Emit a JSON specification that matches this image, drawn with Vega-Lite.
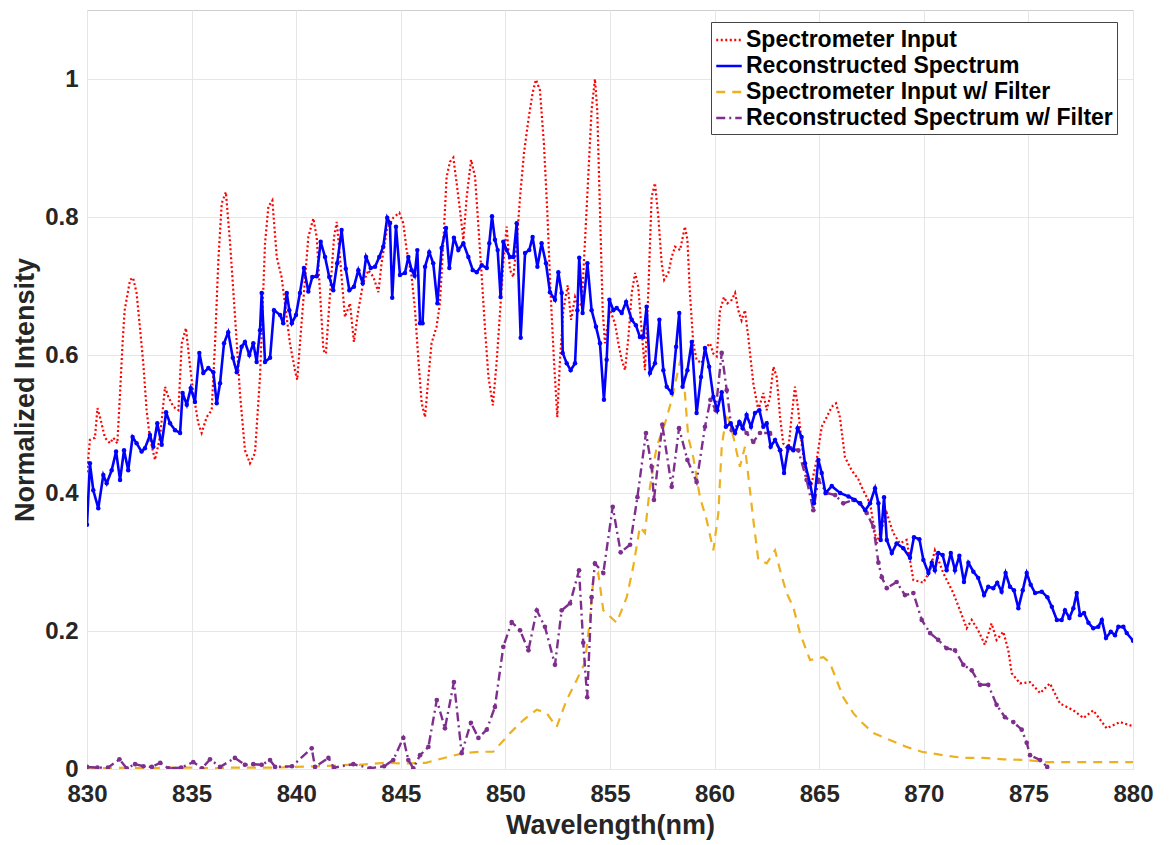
{
"$schema": "https://vega.github.io/schema/vega-lite/v6.json",
"width": 1046, "height": 759,
"autosize": {"type": "none"},
"padding": {"left": 87, "top": 10, "right": 37, "bottom": 76},
"background": "white",
"datasets": {
"si": [
{"x":830.0,"y":0.43},{"x":830.14,"y":0.477},{"x":830.38,"y":0.48},{"x":830.5,"y":0.523},{"x":830.62,"y":0.51},{"x":830.86,"y":0.48},{"x":831.1,"y":0.472},{"x":831.26,"y":0.48},{"x":831.45,"y":0.472},{"x":831.58,"y":0.545},{"x":831.7,"y":0.617},{"x":831.8,"y":0.665},{"x":832.06,"y":0.709},{"x":832.2,"y":0.712},{"x":832.37,"y":0.69},{"x":832.53,"y":0.64},{"x":832.69,"y":0.588},{"x":832.85,"y":0.52},{"x":833.0,"y":0.481},{"x":833.25,"y":0.448},{"x":833.49,"y":0.481},{"x":833.73,"y":0.554},{"x":833.89,"y":0.539},{"x":834.13,"y":0.525},{"x":834.37,"y":0.52},{"x":834.53,"y":0.617},{"x":834.73,"y":0.639},{"x":834.89,"y":0.593},{"x":835.08,"y":0.545},{"x":835.32,"y":0.501},{"x":835.48,"y":0.487},{"x":835.72,"y":0.51},{"x":835.96,"y":0.52},{"x":836.12,"y":0.617},{"x":836.28,"y":0.738},{"x":836.44,"y":0.82},{"x":836.64,"y":0.836},{"x":836.84,"y":0.762},{"x":837.0,"y":0.69},{"x":837.16,"y":0.617},{"x":837.31,"y":0.545},{"x":837.55,"y":0.462},{"x":837.79,"y":0.443},{"x":838.03,"y":0.458},{"x":838.27,"y":0.568},{"x":838.51,"y":0.762},{"x":838.67,"y":0.815},{"x":838.86,"y":0.824},{"x":839.07,"y":0.742},{"x":839.3,"y":0.713},{"x":839.46,"y":0.675},{"x":839.7,"y":0.617},{"x":839.94,"y":0.578},{"x":840.05,"y":0.564},{"x":840.18,"y":0.617},{"x":840.37,"y":0.69},{"x":840.58,"y":0.771},{"x":840.82,"y":0.798},{"x":840.98,"y":0.771},{"x":841.14,"y":0.69},{"x":841.3,"y":0.607},{"x":841.42,"y":0.602},{"x":841.62,"y":0.69},{"x":841.81,"y":0.771},{"x":841.94,"y":0.793},{"x":842.1,"y":0.738},{"x":842.33,"y":0.655},{"x":842.57,"y":0.675},{"x":842.76,"y":0.619},{"x":842.97,"y":0.665},{"x":843.2,"y":0.704},{"x":843.45,"y":0.723},{"x":843.69,"y":0.713},{"x":843.93,"y":0.691},{"x":844.08,"y":0.733},{"x":844.33,"y":0.781},{"x":844.64,"y":0.799},{"x":844.93,"y":0.806},{"x":845.12,"y":0.791},{"x":845.28,"y":0.752},{"x":845.52,"y":0.713},{"x":845.68,"y":0.665},{"x":845.84,"y":0.593},{"x":846.0,"y":0.53},{"x":846.16,"y":0.51},{"x":846.32,"y":0.568},{"x":846.47,"y":0.617},{"x":846.71,"y":0.641},{"x":846.87,"y":0.675},{"x":847.03,"y":0.762},{"x":847.19,"y":0.858},{"x":847.35,"y":0.88},{"x":847.51,"y":0.886},{"x":847.67,"y":0.849},{"x":847.83,"y":0.81},{"x":847.99,"y":0.767},{"x":848.15,"y":0.829},{"x":848.36,"y":0.883},{"x":848.55,"y":0.858},{"x":848.71,"y":0.786},{"x":848.87,"y":0.713},{"x":849.03,"y":0.636},{"x":849.19,"y":0.568},{"x":849.4,"y":0.527},{"x":849.59,"y":0.593},{"x":849.75,"y":0.665},{"x":849.91,"y":0.738},{"x":850.06,"y":0.786},{"x":850.22,"y":0.723},{"x":850.38,"y":0.713},{"x":850.54,"y":0.762},{"x":850.7,"y":0.829},{"x":850.89,"y":0.893},{"x":851.1,"y":0.941},{"x":851.3,"y":0.98},{"x":851.46,"y":0.999},{"x":851.65,"y":0.984},{"x":851.84,"y":0.907},{"x":852.0,"y":0.81},{"x":852.16,"y":0.69},{"x":852.32,"y":0.593},{"x":852.48,"y":0.51},{"x":852.61,"y":0.593},{"x":852.77,"y":0.665},{"x":852.98,"y":0.701},{"x":853.14,"y":0.651},{"x":853.33,"y":0.684},{"x":853.49,"y":0.67},{"x":853.65,"y":0.675},{"x":853.8,"y":0.762},{"x":853.96,"y":0.858},{"x":854.12,"y":0.955},{"x":854.28,"y":1.0},{"x":854.39,"y":0.955},{"x":854.52,"y":0.81},{"x":854.65,"y":0.665},{"x":854.76,"y":0.617},{"x":855.0,"y":0.665},{"x":855.24,"y":0.646},{"x":855.4,"y":0.617},{"x":855.56,"y":0.593},{"x":855.72,"y":0.578},{"x":855.88,"y":0.626},{"x":856.04,"y":0.69},{"x":856.2,"y":0.719},{"x":856.35,"y":0.699},{"x":856.51,"y":0.636},{"x":856.67,"y":0.578},{"x":856.83,"y":0.69},{"x":856.99,"y":0.829},{"x":857.15,"y":0.849},{"x":857.31,"y":0.8},{"x":857.47,"y":0.733},{"x":857.59,"y":0.709},{"x":857.79,"y":0.719},{"x":857.95,"y":0.742},{"x":858.11,"y":0.757},{"x":858.35,"y":0.752},{"x":858.58,"y":0.786},{"x":858.7,"y":0.767},{"x":858.82,"y":0.69},{"x":858.98,"y":0.617},{"x":859.14,"y":0.593},{"x":859.38,"y":0.588},{"x":859.62,"y":0.612},{"x":859.78,"y":0.617},{"x":859.94,"y":0.602},{"x":860.1,"y":0.598},{"x":860.26,"y":0.665},{"x":860.45,"y":0.684},{"x":860.61,"y":0.675},{"x":860.82,"y":0.68},{"x":860.98,"y":0.69},{"x":861.13,"y":0.665},{"x":861.29,"y":0.65},{"x":861.45,"y":0.665},{"x":861.61,"y":0.626},{"x":861.85,"y":0.559},{"x":862.09,"y":0.52},{"x":862.33,"y":0.545},{"x":862.49,"y":0.52},{"x":862.65,"y":0.54},{"x":862.81,"y":0.583},{"x":862.97,"y":0.568},{"x":863.13,"y":0.51},{"x":863.28,"y":0.472},{"x":863.52,"y":0.462},{"x":863.68,"y":0.51},{"x":863.84,"y":0.554},{"x":864.0,"y":0.52},{"x":864.16,"y":0.472},{"x":864.4,"y":0.423},{"x":864.64,"y":0.414},{"x":864.88,"y":0.448},{"x":865.12,"y":0.496},{"x":865.36,"y":0.51},{"x":865.6,"y":0.525},{"x":865.8,"y":0.53},{"x":865.99,"y":0.51},{"x":866.23,"y":0.452},{"x":866.55,"y":0.433},{"x":866.87,"y":0.42},{"x":867.1,"y":0.404},{"x":867.43,"y":0.385},{"x":867.75,"y":0.327},{"x":868.23,"y":0.371},{"x":868.54,"y":0.342},{"x":868.86,"y":0.327},{"x":869.18,"y":0.332},{"x":869.5,"y":0.274},{"x":869.98,"y":0.27},{"x":870.3,"y":0.288},{"x":870.53,"y":0.317},{"x":870.93,"y":0.284},{"x":871.41,"y":0.255},{"x":871.73,"y":0.23},{"x":872.05,"y":0.204},{"x":872.29,"y":0.216},{"x":872.6,"y":0.201},{"x":872.92,"y":0.18},{"x":873.24,"y":0.211},{"x":873.48,"y":0.187},{"x":873.8,"y":0.199},{"x":874.04,"y":0.172},{"x":874.2,"y":0.139},{"x":874.6,"y":0.124},{"x":875.08,"y":0.126},{"x":875.56,"y":0.11},{"x":876.03,"y":0.124},{"x":876.51,"y":0.095},{"x":877.15,"y":0.085},{"x":877.63,"y":0.074},{"x":878.1,"y":0.085},{"x":878.74,"y":0.059},{"x":879.38,"y":0.068},{"x":880.0,"y":0.062}
],
"rs": [
{"x":830.0,"y":0.354},{"x":830.14,"y":0.443},{"x":830.3,"y":0.404},{"x":830.54,"y":0.378},{"x":830.78,"y":0.426},{"x":830.94,"y":0.414},{"x":831.18,"y":0.433},{"x":831.39,"y":0.46},{"x":831.58,"y":0.419},{"x":831.77,"y":0.462},{"x":831.97,"y":0.433},{"x":832.18,"y":0.481},{"x":832.37,"y":0.472},{"x":832.61,"y":0.46},{"x":832.77,"y":0.465},{"x":833.01,"y":0.484},{"x":833.17,"y":0.467},{"x":833.36,"y":0.501},{"x":833.57,"y":0.47},{"x":833.78,"y":0.517},{"x":833.97,"y":0.501},{"x":834.21,"y":0.491},{"x":834.45,"y":0.487},{"x":834.57,"y":0.545},{"x":834.77,"y":0.528},{"x":834.96,"y":0.552},{"x":835.16,"y":0.532},{"x":835.37,"y":0.603},{"x":835.56,"y":0.574},{"x":835.8,"y":0.581},{"x":836.04,"y":0.575},{"x":836.2,"y":0.53},{"x":836.36,"y":0.559},{"x":836.55,"y":0.617},{"x":836.75,"y":0.633},{"x":836.97,"y":0.596},{"x":837.16,"y":0.575},{"x":837.39,"y":0.612},{"x":837.55,"y":0.619},{"x":837.76,"y":0.6},{"x":837.95,"y":0.617},{"x":838.11,"y":0.59},{"x":838.27,"y":0.636},{"x":838.35,"y":0.69},{"x":838.51,"y":0.59},{"x":838.75,"y":0.596},{"x":838.94,"y":0.665},{"x":839.23,"y":0.658},{"x":839.38,"y":0.646},{"x":839.55,"y":0.69},{"x":839.67,"y":0.665},{"x":839.79,"y":0.646},{"x":839.99,"y":0.658},{"x":840.18,"y":0.69},{"x":840.37,"y":0.726},{"x":840.58,"y":0.692},{"x":840.77,"y":0.713},{"x":840.98,"y":0.714},{"x":841.17,"y":0.764},{"x":841.38,"y":0.742},{"x":841.58,"y":0.713},{"x":841.77,"y":0.694},{"x":841.96,"y":0.733},{"x":842.17,"y":0.781},{"x":842.37,"y":0.725},{"x":842.54,"y":0.694},{"x":842.76,"y":0.699},{"x":842.97,"y":0.723},{"x":843.18,"y":0.704},{"x":843.34,"y":0.742},{"x":843.56,"y":0.726},{"x":843.77,"y":0.728},{"x":843.97,"y":0.742},{"x":844.16,"y":0.757},{"x":844.35,"y":0.799},{"x":844.48,"y":0.791},{"x":844.59,"y":0.683},{"x":844.77,"y":0.786},{"x":844.96,"y":0.716},{"x":845.2,"y":0.719},{"x":845.36,"y":0.742},{"x":845.52,"y":0.723},{"x":845.66,"y":0.715},{"x":845.79,"y":0.752},{"x":845.92,"y":0.646},{"x":846.04,"y":0.646},{"x":846.16,"y":0.728},{"x":846.36,"y":0.749},{"x":846.55,"y":0.733},{"x":846.75,"y":0.675},{"x":846.95,"y":0.755},{"x":847.16,"y":0.784},{"x":847.32,"y":0.726},{"x":847.54,"y":0.77},{"x":847.75,"y":0.752},{"x":847.99,"y":0.762},{"x":848.23,"y":0.742},{"x":848.44,"y":0.723},{"x":848.63,"y":0.72},{"x":848.87,"y":0.73},{"x":849.11,"y":0.726},{"x":849.23,"y":0.762},{"x":849.36,"y":0.801},{"x":849.5,"y":0.767},{"x":849.63,"y":0.752},{"x":849.77,"y":0.684},{"x":849.9,"y":0.764},{"x":850.06,"y":0.752},{"x":850.22,"y":0.742},{"x":850.38,"y":0.742},{"x":850.54,"y":0.791},{"x":850.73,"y":0.625},{"x":850.94,"y":0.748},{"x":851.14,"y":0.752},{"x":851.3,"y":0.771},{"x":851.53,"y":0.728},{"x":851.73,"y":0.762},{"x":851.94,"y":0.733},{"x":852.13,"y":0.691},{"x":852.37,"y":0.68},{"x":852.53,"y":0.72},{"x":852.69,"y":0.69},{"x":852.74,"y":0.603},{"x":852.93,"y":0.588},{"x":853.12,"y":0.578},{"x":853.33,"y":0.588},{"x":853.44,"y":0.665},{"x":853.53,"y":0.741},{"x":853.69,"y":0.661},{"x":853.92,"y":0.733},{"x":854.12,"y":0.665},{"x":854.33,"y":0.641},{"x":854.52,"y":0.617},{"x":854.71,"y":0.535},{"x":854.84,"y":0.593},{"x":854.97,"y":0.68},{"x":855.16,"y":0.665},{"x":855.32,"y":0.668},{"x":855.56,"y":0.661},{"x":855.77,"y":0.677},{"x":856.04,"y":0.651},{"x":856.24,"y":0.643},{"x":856.43,"y":0.626},{"x":856.59,"y":0.626},{"x":856.75,"y":0.67},{"x":856.91,"y":0.574},{"x":857.15,"y":0.588},{"x":857.36,"y":0.651},{"x":857.55,"y":0.578},{"x":857.71,"y":0.554},{"x":857.95,"y":0.545},{"x":858.16,"y":0.612},{"x":858.31,"y":0.661},{"x":858.47,"y":0.554},{"x":858.7,"y":0.578},{"x":858.91,"y":0.619},{"x":859.14,"y":0.516},{"x":859.35,"y":0.568},{"x":859.54,"y":0.61},{"x":859.74,"y":0.583},{"x":859.94,"y":0.539},{"x":860.13,"y":0.52},{"x":860.34,"y":0.546},{"x":860.54,"y":0.496},{"x":860.77,"y":0.501},{"x":860.98,"y":0.487},{"x":861.18,"y":0.503},{"x":861.34,"y":0.494},{"x":861.53,"y":0.513},{"x":861.74,"y":0.496},{"x":861.93,"y":0.516},{"x":862.14,"y":0.52},{"x":862.33,"y":0.496},{"x":862.49,"y":0.501},{"x":862.68,"y":0.467},{"x":862.89,"y":0.477},{"x":863.13,"y":0.462},{"x":863.32,"y":0.429},{"x":863.52,"y":0.467},{"x":863.76,"y":0.462},{"x":863.97,"y":0.494},{"x":864.16,"y":0.481},{"x":864.32,"y":0.443},{"x":864.56,"y":0.414},{"x":864.75,"y":0.385},{"x":864.96,"y":0.448},{"x":865.12,"y":0.429},{"x":865.3,"y":0.4},{"x":865.6,"y":0.41},{"x":866.0,"y":0.4},{"x":866.4,"y":0.395},{"x":866.7,"y":0.39},{"x":866.95,"y":0.385},{"x":867.2,"y":0.375},{"x":867.43,"y":0.385},{"x":867.67,"y":0.407},{"x":867.83,"y":0.385},{"x":867.94,"y":0.332},{"x":868.1,"y":0.394},{"x":868.23,"y":0.332},{"x":868.47,"y":0.313},{"x":868.7,"y":0.327},{"x":869.02,"y":0.32},{"x":869.34,"y":0.306},{"x":869.53,"y":0.336},{"x":869.79,"y":0.333},{"x":869.98,"y":0.303},{"x":870.22,"y":0.284},{"x":870.38,"y":0.299},{"x":870.53,"y":0.288},{"x":870.69,"y":0.313},{"x":870.9,"y":0.31},{"x":871.09,"y":0.288},{"x":871.29,"y":0.313},{"x":871.49,"y":0.288},{"x":871.7,"y":0.309},{"x":871.92,"y":0.271},{"x":872.13,"y":0.299},{"x":872.37,"y":0.286},{"x":872.6,"y":0.277},{"x":872.88,"y":0.252},{"x":873.08,"y":0.264},{"x":873.32,"y":0.262},{"x":873.51,"y":0.27},{"x":873.72,"y":0.257},{"x":873.91,"y":0.284},{"x":874.12,"y":0.264},{"x":874.31,"y":0.259},{"x":874.52,"y":0.233},{"x":874.73,"y":0.259},{"x":874.92,"y":0.284},{"x":875.11,"y":0.267},{"x":875.32,"y":0.255},{"x":875.64,"y":0.257},{"x":875.91,"y":0.249},{"x":876.12,"y":0.235},{"x":876.36,"y":0.216},{"x":876.59,"y":0.216},{"x":876.75,"y":0.23},{"x":876.96,"y":0.219},{"x":877.15,"y":0.233},{"x":877.31,"y":0.255},{"x":877.47,"y":0.223},{"x":877.66,"y":0.226},{"x":877.87,"y":0.212},{"x":878.1,"y":0.204},{"x":878.34,"y":0.206},{"x":878.51,"y":0.216},{"x":878.71,"y":0.19},{"x":878.94,"y":0.199},{"x":879.14,"y":0.194},{"x":879.3,"y":0.206},{"x":879.54,"y":0.206},{"x":879.7,"y":0.197},{"x":880.0,"y":0.186}
],
"sf": [
{"x":830,"y":0.002},{"x":831,"y":0.001},{"x":832,"y":0.002},{"x":833,"y":0.001},{"x":834,"y":0.002},{"x":835,"y":0.002},{"x":836,"y":0.001},{"x":837,"y":0.002},{"x":838,"y":0.002},{"x":839,"y":0.002},{"x":840,"y":0.003},{"x":841,"y":0.004},{"x":842,"y":0.005},{"x":842.4,"y":0.006},{"x":843,"y":0.006},{"x":844.3,"y":0.009},{"x":845,"y":0.008},{"x":846.2,"y":0.009},{"x":847.2,"y":0.017},{"x":848,"y":0.023},{"x":848.8,"y":0.025},{"x":849.42,"y":0.025},{"x":850.22,"y":0.052},{"x":850.86,"y":0.071},{"x":851.5,"y":0.086},{"x":851.97,"y":0.081},{"x":852.45,"y":0.061},{"x":852.93,"y":0.1},{"x":853.41,"y":0.129},{"x":853.8,"y":0.154},{"x":854.04,"y":0.216},{"x":854.2,"y":0.274},{"x":854.44,"y":0.284},{"x":854.68,"y":0.23},{"x":855.32,"y":0.212},{"x":855.8,"y":0.249},{"x":856.11,"y":0.293},{"x":856.43,"y":0.351},{"x":856.67,"y":0.342},{"x":856.91,"y":0.409},{"x":857.23,"y":0.467},{"x":857.63,"y":0.501},{"x":857.95,"y":0.535},{"x":858.27,"y":0.58},{"x":858.42,"y":0.6},{"x":858.58,"y":0.545},{"x":858.74,"y":0.481},{"x":858.98,"y":0.452},{"x":859.3,"y":0.394},{"x":859.62,"y":0.361},{"x":859.94,"y":0.317},{"x":860.18,"y":0.371},{"x":860.34,"y":0.467},{"x":860.58,"y":0.516},{"x":860.9,"y":0.481},{"x":861.21,"y":0.438},{"x":861.45,"y":0.467},{"x":861.69,"y":0.404},{"x":861.85,"y":0.361},{"x":862.09,"y":0.303},{"x":862.49,"y":0.298},{"x":862.89,"y":0.317},{"x":863.13,"y":0.288},{"x":863.44,"y":0.255},{"x":863.76,"y":0.235},{"x":864.08,"y":0.197},{"x":864.56,"y":0.158},{"x":865.2,"y":0.162},{"x":865.51,"y":0.154},{"x":866.15,"y":0.104},{"x":866.63,"y":0.081},{"x":866.95,"y":0.07},{"x":867.59,"y":0.052},{"x":868.38,"y":0.042},{"x":869.18,"y":0.032},{"x":869.9,"y":0.025},{"x":870.93,"y":0.02},{"x":871.89,"y":0.016},{"x":872.84,"y":0.016},{"x":873.8,"y":0.014},{"x":874.92,"y":0.013},{"x":875.87,"y":0.01},{"x":877.3,"y":0.01},{"x":880,"y":0.01}
],
"rf": [
{"x":830.0,"y":0.003},{"x":830.5,"y":0.002},{"x":831.0,"y":0.002},{"x":831.55,"y":0.014},{"x":831.9,"y":0.001},{"x":832.3,"y":0.007},{"x":832.7,"y":0.004},{"x":833.1,"y":0.003},{"x":833.5,"y":0.009},{"x":833.9,"y":0.001},{"x":834.5,"y":0.002},{"x":835.08,"y":0.01},{"x":835.5,"y":0.001},{"x":835.88,"y":0.014},{"x":836.36,"y":0.003},{"x":837.07,"y":0.016},{"x":837.55,"y":0.006},{"x":837.95,"y":0.007},{"x":838.35,"y":0.006},{"x":838.75,"y":0.013},{"x":838.99,"y":0.003},{"x":839.8,"y":0.004},{"x":840.74,"y":0.03},{"x":840.9,"y":0.003},{"x":841.54,"y":0.016},{"x":841.8,"y":0.002},{"x":842.73,"y":0.007},{"x":843.53,"y":0.001},{"x":844.2,"y":0.004},{"x":844.64,"y":0.013},{"x":845.12,"y":0.045},{"x":845.36,"y":0.013},{"x":845.6,"y":0.001},{"x":845.92,"y":0.02},{"x":846.32,"y":0.032},{"x":846.72,"y":0.1},{"x":847.11,"y":0.059},{"x":847.54,"y":0.126},{"x":847.91,"y":0.023},{"x":848.35,"y":0.067},{"x":848.71,"y":0.045},{"x":849.11,"y":0.057},{"x":849.5,"y":0.09},{"x":849.9,"y":0.177},{"x":850.3,"y":0.213},{"x":850.7,"y":0.201},{"x":851.1,"y":0.172},{"x":851.5,"y":0.23},{"x":851.89,"y":0.206},{"x":852.37,"y":0.151},{"x":852.69,"y":0.23},{"x":853.09,"y":0.24},{"x":853.52,"y":0.288},{"x":853.72,"y":0.183},{"x":853.91,"y":0.104},{"x":854.12,"y":0.249},{"x":854.28,"y":0.298},{"x":854.68,"y":0.284},{"x":855.13,"y":0.38},{"x":855.51,"y":0.314},{"x":855.96,"y":0.325},{"x":856.31,"y":0.394},{"x":856.72,"y":0.487},{"x":856.99,"y":0.438},{"x":857.1,"y":0.39},{"x":857.5,"y":0.499},{"x":857.95,"y":0.409},{"x":858.3,"y":0.494},{"x":858.7,"y":0.448},{"x":859.14,"y":0.416},{"x":859.54,"y":0.496},{"x":859.8,"y":0.535},{"x":860.05,"y":0.52},{"x":860.34,"y":0.603},{"x":860.58,"y":0.549},{"x":860.82,"y":0.491},{"x":861.21,"y":0.501},{"x":861.53,"y":0.487},{"x":861.85,"y":0.474},{"x":862.17,"y":0.487},{"x":862.65,"y":0.487},{"x":863.13,"y":0.462},{"x":863.61,"y":0.465},{"x":864.0,"y":0.462},{"x":864.4,"y":0.419},{"x":864.72,"y":0.375},{"x":864.96,"y":0.419},{"x":865.36,"y":0.4},{"x":865.76,"y":0.397},{"x":866.15,"y":0.385},{"x":866.63,"y":0.39},{"x":866.95,"y":0.385},{"x":867.27,"y":0.371},{"x":867.59,"y":0.351},{"x":867.83,"y":0.299},{"x":867.99,"y":0.278},{"x":868.23,"y":0.262},{"x":868.7,"y":0.271},{"x":869.1,"y":0.252},{"x":869.5,"y":0.255},{"x":869.9,"y":0.216},{"x":870.3,"y":0.197},{"x":870.69,"y":0.187},{"x":871.09,"y":0.175},{"x":871.49,"y":0.172},{"x":871.89,"y":0.151},{"x":872.29,"y":0.143},{"x":872.69,"y":0.122},{"x":873.08,"y":0.122},{"x":873.48,"y":0.093},{"x":873.88,"y":0.075},{"x":874.28,"y":0.068},{"x":874.68,"y":0.057},{"x":874.92,"y":0.038},{"x":875.08,"y":0.02},{"x":875.56,"y":0.013},{"x":875.9,"y":0.003}
]
},
"encoding": {
"x": {"field": "x", "type": "quantitative", "scale": {"domain": [830, 880], "nice": false, "zero": false},
 "axis": {"title": "Wavelength(nm)", "values": [830,835,840,845,850,855,860,865,870,875,880], "format": "d", "labelFlush": false, "labelPadding": 13, "titlePadding": 6}},
"y": {"field": "y", "type": "quantitative", "scale": {"domain": [0, 1.1], "nice": false},
 "axis": {"title": "Normalized Intensity", "values": [0,0.2,0.4,0.6,0.8,1], "format": "~g", "labelFlush": false, "labelPadding": 9, "titlePadding": 5}}
},
"layer": [
{"data": {"name": "si"}, "mark": {"type": "line", "strokeWidth": 2.2, "clip": true},
 "encoding": {
  "color": {"datum": "Spectrometer Input", "type": "nominal", "scale": {"domain": ["Spectrometer Input","Reconstructed Spectrum","Spectrometer Input w/ Filter","Reconstructed Spectrum w/ Filter"], "range": ["#ff0000","#0000ff","#edb120","#7e2f8e"]}, "legend": {"title": null}},
  "strokeDash": {"datum": "Spectrometer Input", "type": "nominal", "scale": {"domain": ["Spectrometer Input","Reconstructed Spectrum","Spectrometer Input w/ Filter","Reconstructed Spectrum w/ Filter"], "range": [[2,2.5],[1,0],[9,7],[9,4,2,4]]}, "legend": {"title": null}}
 }},
{"data": {"name": "sf"}, "mark": {"type": "line", "strokeWidth": 2.2, "clip": true},
 "encoding": {"color": {"datum": "Spectrometer Input w/ Filter", "type": "nominal"}, "strokeDash": {"datum": "Spectrometer Input w/ Filter", "type": "nominal"}}},
{"data": {"name": "rf"}, "mark": {"type": "line", "strokeWidth": 2.4, "clip": true},
 "encoding": {"color": {"datum": "Reconstructed Spectrum w/ Filter", "type": "nominal"}, "strokeDash": {"datum": "Reconstructed Spectrum w/ Filter", "type": "nominal"}}},
{"data": {"name": "rf"}, "mark": {"type": "point", "filled": true, "size": 22, "opacity": 1, "color": "#7e2f8e", "clip": true}},
{"data": {"name": "rs"}, "mark": {"type": "line", "strokeWidth": 2.6, "clip": true},
 "encoding": {"color": {"datum": "Reconstructed Spectrum", "type": "nominal"}, "strokeDash": {"datum": "Reconstructed Spectrum", "type": "nominal"}}},
{"data": {"name": "rs"}, "mark": {"type": "point", "filled": true, "size": 20, "opacity": 1, "color": "#0000ff", "clip": true}}
],
"config": {
 "font": "Liberation Sans",
 "view": {"stroke": "#cfcfcf", "strokeWidth": 1},
 "axis": {"grid": true, "gridColor": "#e6e6e6", "gridWidth": 1, "domain": false, "ticks": false,
  "labelFont": "Liberation Sans", "labelFontSize": 24, "labelFontWeight": "bold", "labelColor": "#262626",
  "titleFont": "Liberation Sans", "titleFontSize": 27, "titleFontWeight": "bold", "titleColor": "#262626"},
 "legend": {"orient": "none", "legendX": 624, "legendY": 12, "symbolType": "stroke", "symbolSize": 650, "symbolStrokeWidth": 2.4,
  "labelFont": "Liberation Sans", "labelFontSize": 23, "labelFontWeight": "bold", "labelColor": "#000000", "labelOffset": 3,
  "strokeColor": "#444444", "fillColor": "#ffffff", "padding": 4, "rowPadding": 0, "labelLimit": 450}
}
}
